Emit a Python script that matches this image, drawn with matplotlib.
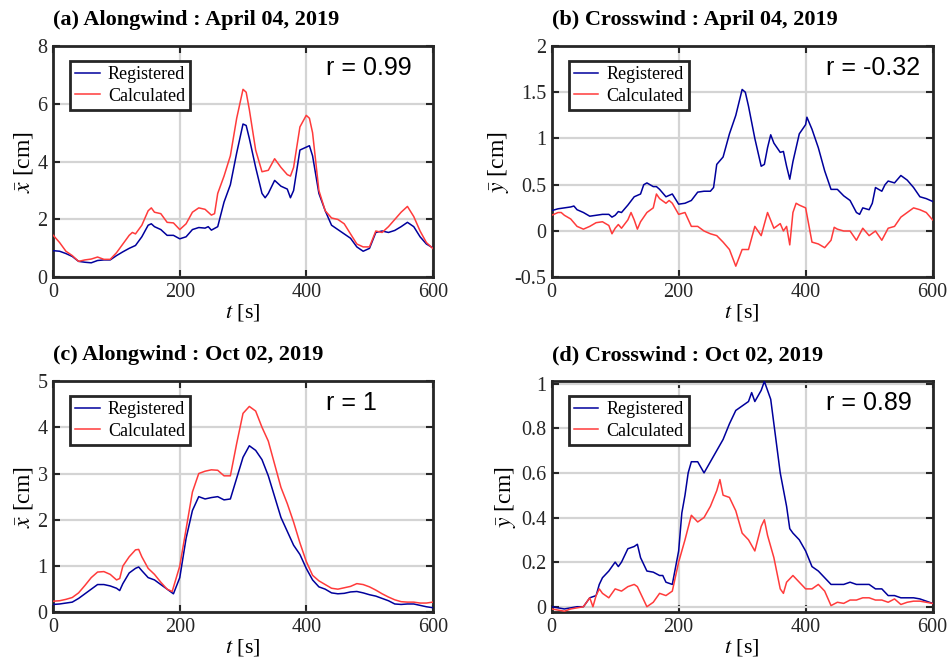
import matplotlib
matplotlib.use('Agg')
import matplotlib.pyplot as plt
from matplotlib.ticker import FuncFormatter

plt.rcParams['font.family'] = 'serif'
plt.rcParams['font.serif'] = ['Liberation Serif', 'DejaVu Serif']
plt.rcParams['mathtext.fontset'] = 'stix'
plt.rcParams['axes.unicode_minus'] = False

# ---- (a) Alongwind : April 04, 2019 ----
ta_reg = [0, 10, 20, 30, 40, 50, 60, 70, 80, 90, 100, 110, 120, 130, 140, 150, 155, 160, 170, 180,
          190, 200, 210, 220, 230, 240, 245, 250, 260, 270, 280, 290, 300, 305, 310, 320, 330, 335,
          340, 350, 360, 370, 375, 380, 390, 400, 405, 410, 420, 430, 440, 450, 460, 470, 480, 490,
          500, 510, 520, 530, 540, 550, 560, 570, 580, 590, 600]
xa_reg = [0.92, 0.9, 0.82, 0.72, 0.55, 0.52, 0.5, 0.58, 0.6, 0.6, 0.75, 0.88, 1.0, 1.1, 1.4, 1.8,
          1.85, 1.75, 1.65, 1.45, 1.45, 1.33, 1.4, 1.65, 1.72, 1.7, 1.75, 1.63, 1.75, 2.6, 3.2, 4.3,
          5.3, 5.25, 4.8, 3.8, 2.9, 2.75, 2.9, 3.35, 3.15, 3.05, 2.75, 3.0, 4.4, 4.5, 4.55, 4.2,
          2.9, 2.3, 1.8, 1.65, 1.5, 1.35, 1.05, 0.9, 1.0, 1.55, 1.6, 1.55, 1.62, 1.75, 1.9, 1.75,
          1.4, 1.15, 1.02]
ta_cal = [0, 10, 20, 30, 40, 50, 60, 70, 80, 90, 100, 110, 120, 125, 130, 140, 150, 155, 160, 170,
          180, 190, 200, 210, 220, 230, 240, 250, 255, 260, 270, 280, 290, 300, 305, 310, 320, 330,
          340, 350, 360, 370, 375, 380, 390, 400, 405, 410, 420, 430, 440, 450, 460, 470, 480, 490,
          500, 510, 520, 530, 540, 550, 560, 570, 580, 590, 600]
xa_cal = [1.45, 1.2, 0.9, 0.75, 0.55, 0.6, 0.63, 0.7, 0.62, 0.62, 0.85, 1.15, 1.45, 1.55, 1.5, 1.8,
          2.3, 2.4, 2.25, 2.2, 1.9, 1.88, 1.65, 1.85, 2.25, 2.4, 2.35, 2.15, 2.2, 2.9, 3.5, 4.2, 5.5,
          6.5, 6.4, 5.8, 4.4, 3.65, 3.7, 4.1, 3.8, 3.55, 3.5, 3.8, 5.2, 5.6, 5.5, 5.0, 3.0, 2.3,
          2.05, 2.0, 1.85, 1.5, 1.15, 1.05, 1.05, 1.6, 1.55, 1.75, 2.0, 2.25, 2.45, 2.1, 1.6, 1.2,
          1.0]

# ---- (b) Crosswind : April 04, 2019 ----
tb_reg = [0, 10, 20, 30, 35, 40, 50, 60, 70, 80, 90, 95, 100, 105, 110, 120, 130, 140, 145, 150,
          160, 165, 170, 180, 190, 200, 210, 220, 230, 240, 250, 255, 260, 270, 280, 290, 300, 305,
          310, 320, 330, 335, 340, 345, 350, 360, 365, 370, 375, 380, 390, 400, 402, 410, 420, 430,
          440, 450, 460, 470, 480, 485, 490, 500, 505, 510, 520, 525, 530, 540, 550, 560, 570, 580,
          590, 600]
yb_reg = [0.22, 0.24, 0.25, 0.26, 0.27, 0.23, 0.2, 0.16, 0.17, 0.18, 0.18, 0.15, 0.17, 0.21, 0.2,
          0.28, 0.37, 0.4, 0.5, 0.52, 0.48, 0.48, 0.45, 0.37, 0.4, 0.29, 0.3, 0.33, 0.42, 0.43, 0.43,
          0.47, 0.72, 0.8, 1.05, 1.25, 1.53, 1.5, 1.35, 1.0, 0.7, 0.72, 0.9, 1.04, 0.95, 0.85, 0.86,
          0.7, 0.56, 0.75, 1.05, 1.15, 1.23, 1.1, 0.9, 0.65, 0.45, 0.45, 0.38, 0.33, 0.2, 0.18, 0.25,
          0.23, 0.3, 0.47, 0.43, 0.5, 0.54, 0.52, 0.6, 0.55, 0.47, 0.37, 0.35, 0.32]
tb_cal = [0, 10, 15, 20, 30, 40, 50, 60, 70, 80, 90, 95, 100, 105, 110, 120, 125, 130, 135, 140,
          150, 160, 165, 170, 180, 185, 190, 200, 210, 220, 230, 240, 250, 260, 270, 280, 290, 300,
          310, 320, 330, 340, 350, 360, 365, 370, 375, 380, 385, 390, 400, 410, 420, 430, 440, 445,
          450, 460, 470, 480, 490, 500, 510, 520, 530, 540, 550, 560, 570, 580, 590, 600]
yb_cal = [0.17, 0.2, 0.2, 0.17, 0.13, 0.05, 0.02, 0.05, 0.09, 0.1, 0.06, -0.03, 0.03, 0.07, 0.03,
          0.12, 0.2, 0.12, 0.02, 0.1, 0.2, 0.25, 0.4, 0.35, 0.3, 0.33, 0.3, 0.18, 0.2, 0.05, 0.05,
          0.0, -0.03, -0.05, -0.12, -0.2, -0.38, -0.2, -0.2, 0.05, -0.05, 0.2, 0.03, 0.08, 0.0,
          0.05, -0.15, 0.2, 0.3, 0.28, 0.25, -0.12, -0.14, -0.18, -0.1, 0.04, 0.02, 0.0, 0.0, -0.1,
          0.03, -0.05, 0.0, -0.1, 0.03, 0.05, 0.15, 0.2, 0.25, 0.23, 0.2, 0.12]

# ---- (c) Alongwind : Oct 02, 2019 ----
tc_reg = [0, 10, 20, 30, 40, 50, 60, 70, 80, 90, 100, 105, 110, 120, 130, 135, 140, 150, 160, 170,
          180, 190, 200, 210, 220, 230, 240, 250, 260, 270, 280, 290, 300, 310, 320, 330, 340, 350,
          360, 370, 380, 390, 400, 410, 420, 430, 440, 450, 460, 470, 480, 490, 500, 510, 520, 530,
          540, 550, 560, 570, 580, 590, 600]
xc_reg = [0.17, 0.18, 0.2, 0.22, 0.3, 0.4, 0.5, 0.6, 0.6, 0.57, 0.52, 0.47, 0.62, 0.85, 0.95, 0.98,
          0.9, 0.75, 0.7, 0.6, 0.5, 0.4, 0.75, 1.6, 2.2, 2.5, 2.45, 2.48, 2.5, 2.43, 2.45, 2.9, 3.35,
          3.6, 3.5, 3.3, 2.95, 2.5, 2.05, 1.75, 1.45, 1.25, 0.95, 0.7, 0.55, 0.5, 0.42, 0.4, 0.41,
          0.44, 0.45, 0.42, 0.38, 0.35, 0.3, 0.25, 0.18, 0.17, 0.18, 0.18, 0.15, 0.12, 0.1]
tc_cal = [0, 10, 20, 30, 40, 50, 60, 70, 80, 90, 100, 105, 110, 120, 130, 135, 140, 150, 160, 170,
          180, 188, 200, 210, 220, 230, 240, 250, 260, 270, 280, 290, 300, 310, 320, 330, 340, 350,
          360, 370, 380, 390, 400, 410, 420, 430, 440, 450, 460, 470, 480, 490, 500, 510, 520, 530,
          540, 550, 560, 570, 580, 590, 600]
xc_cal = [0.24, 0.25, 0.28, 0.32, 0.42, 0.58, 0.75, 0.87, 0.88, 0.82, 0.7, 0.73, 1.0, 1.2, 1.35,
          1.36, 1.2, 0.95, 0.82, 0.65, 0.5, 0.45, 1.0, 1.8, 2.6, 3.0, 3.05, 3.08, 3.07, 2.95, 2.95,
          3.65, 4.3, 4.45, 4.35, 4.0, 3.7, 3.2, 2.7, 2.35, 1.95, 1.5, 1.1, 0.8, 0.68, 0.6, 0.52, 0.5,
          0.53, 0.56, 0.62, 0.6, 0.55, 0.48, 0.4, 0.33, 0.27, 0.23, 0.22, 0.22, 0.2, 0.2, 0.22]

# ---- (d) Crosswind : Oct 02, 2019 ----
td_reg = [0, 10, 20, 30, 40, 50, 55, 60, 70, 75, 80, 90, 100, 105, 110, 120, 130, 135, 140, 150,
          160, 170, 175, 180, 190, 200, 205, 210, 215, 220, 230, 240, 250, 260, 270, 280, 290, 300,
          310, 315, 320, 330, 335, 340, 345, 350, 360, 370, 375, 380, 390, 400, 410, 420, 430, 440,
          450, 460, 470, 480, 490, 500, 510, 520, 530, 540, 550, 560, 570, 580, 590, 600]
yd_reg = [0.0, -0.005, -0.01, -0.005, 0.0, 0.0, 0.02, 0.04, 0.05, 0.1, 0.13, 0.16, 0.2, 0.18, 0.2,
          0.26, 0.27, 0.28, 0.22, 0.16, 0.155, 0.14, 0.14, 0.11, 0.1, 0.25, 0.42, 0.5, 0.6, 0.65,
          0.65, 0.6, 0.65, 0.7, 0.75, 0.82, 0.88, 0.9, 0.92, 0.96, 0.92, 0.97, 1.01, 0.97, 0.93,
          0.82, 0.6, 0.45, 0.35, 0.33, 0.3, 0.25, 0.18, 0.16, 0.13, 0.1, 0.1, 0.1, 0.11, 0.1, 0.1,
          0.1, 0.08, 0.08, 0.05, 0.05, 0.04, 0.04, 0.04, 0.035, 0.025, 0.015]
td_cal = [0, 10, 20, 30, 40, 50, 60, 65, 70, 75, 80, 90, 100, 110, 120, 130, 135, 140, 150, 160,
          170, 180, 190, 200, 210, 220, 230, 240, 250, 260, 265, 270, 280, 290, 300, 310, 320, 330,
          335, 340, 350, 360, 365, 370, 380, 390, 400, 410, 420, 430, 440, 450, 460, 470, 480, 490,
          500, 510, 520, 530, 540, 550, 560, 570, 580, 590, 600]
yd_cal = [-0.01, -0.015, -0.02, -0.01, -0.005, 0.0, 0.04, 0.0, 0.05, 0.08, 0.06, 0.04, 0.08, 0.07,
          0.09, 0.1, 0.09, 0.06, 0.0, 0.02, 0.06, 0.05, 0.07, 0.2, 0.3, 0.41, 0.38, 0.4, 0.45, 0.52,
          0.57, 0.5, 0.49, 0.43, 0.33, 0.3, 0.25, 0.36, 0.39, 0.32, 0.22, 0.08, 0.06, 0.11, 0.14,
          0.11, 0.08, 0.08, 0.1, 0.07, 0.005, 0.02, 0.015, 0.03, 0.03, 0.04, 0.04, 0.03, 0.03, 0.02,
          0.035, 0.01, 0.02, 0.025, 0.025, 0.02, 0.015]

titles = ['(a) Alongwind : April 04, 2019', '(b) Crosswind : April 04, 2019',
          '(c) Alongwind : Oct 02, 2019', '(d) Crosswind : Oct 02, 2019']
r_labels = ['r = 0.99', 'r = -0.32', 'r = 1', 'r = 0.89']
ylabels = [r'$\bar{x}$ [cm]', r'$\bar{y}$ [cm]', r'$\bar{x}$ [cm]', r'$\bar{y}$ [cm]']
ylims = [(0, 8), (-0.5, 2), (0, 5), (-0.025, 1.012)]
yticks = [[0, 2, 4, 6, 8], [-0.5, 0, 0.5, 1, 1.5, 2], [0, 1, 2, 3, 4, 5],
          [0, 0.2, 0.4, 0.6, 0.8, 1]]
series = [(ta_reg, xa_reg, ta_cal, xa_cal), (tb_reg, yb_reg, tb_cal, yb_cal),
          (tc_reg, xc_reg, tc_cal, xc_cal), (td_reg, yd_reg, td_cal, yd_cal)]

boxes = [[0.0561, 0.5843, 0.3994, 0.3468], [0.5807, 0.5843, 0.4010, 0.3468],
         [0.0561, 0.0820, 0.3994, 0.3468], [0.5807, 0.0820, 0.4010, 0.3468]]

blue = '#00009c'
red = '#ff3b3b'

fig = plt.figure(figsize=(9.5, 6.67), dpi=100, facecolor='w')

for i in range(4):
  ax = fig.add_axes(boxes[i])
  t1, v1, t2, v2 = series[i]
  ax.plot(t1, v1, color=blue, lw=1.1, label='Registered', zorder=3)
  ax.plot(t2, v2, color=red, lw=1.1, label='Calculated', zorder=3)
  ax.set_xlim(0, 600)
  ax.set_ylim(*ylims[i])
  ax.set_xticks([0, 200, 400, 600])
  ax.set_yticks(yticks[i])
  ax.yaxis.set_major_formatter(FuncFormatter(lambda v, p: '%g' % v))
  ax.grid(True, color='#d4d4d4', lw=1.6)
  ax.set_axisbelow(True)
  for sp in ax.spines.values():
    sp.set_linewidth(2)
    sp.set_color('#262626')
  ax.tick_params(direction='in', top=True, right=True, length=5, width=1.5,
                 labelsize=14.5, colors='#262626', pad=4)
  ax.set_xlabel(r'$t$ [s]', fontsize=16, labelpad=0)
  ax.set_ylabel(ylabels[i], fontsize=17, labelpad=2)
  ax.set_title(titles[i], loc='left', fontweight='bold', fontsize=16, pad=15)
  ax.text(0.72, 0.905, r_labels[i], transform=ax.transAxes, fontsize=18,
          family='Liberation Sans', va='center')
  leg = ax.legend(loc='upper left', bbox_to_anchor=(0.045, 0.935), borderaxespad=0,
                  fontsize=13, fancybox=False, framealpha=1, edgecolor='#262626',
                  handlelength=1.35, borderpad=0.28, labelspacing=0.25, handletextpad=0.45)
  leg.get_frame().set_linewidth(2)

fig.savefig('out.png', dpi=100)
